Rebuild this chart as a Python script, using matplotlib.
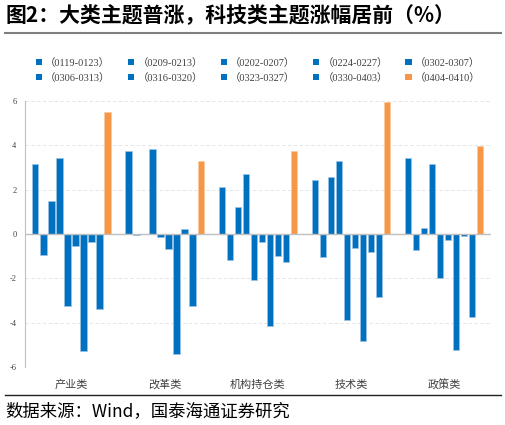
import numpy as np
import matplotlib
matplotlib.use("Agg")
import matplotlib.pyplot as plt
from matplotlib.lines import Line2D
from matplotlib.patches import Patch

plt.rcParams['font.family'] = ['Liberation Serif', 'Noto Sans CJK SC']

categories = ['产业类', '改革类', '机构持仓类', '技术类', '政策类']
periods = ['（0119-0123）', '（0209-0213）', '（0202-0207）', '（0224-0227）', '（0302-0307）',
           '（0306-0313）', '（0316-0320）', '（0323-0327）', '（0330-0403）', '（0404-0410）']

# rows = periods, columns = categories
values = [
    [3.14, 3.72, 2.12, 2.45, 3.42],
    [-0.93, -0.05, -1.16, -1.02, -0.74],
    [1.47, 0.02, 1.23, 2.55, 0.26],
    [3.41, 3.81, 2.69, 3.29, 3.17],
    [-3.26, -0.12, -2.06, -3.89, -1.97],
    [-0.54, -0.69, -0.36, -0.65, -0.29],
    [-5.27, -5.42, -4.16, -4.80, -5.23],
    [-0.36, 0.24, -0.99, -0.80, -0.08],
    [-3.36, -3.26, -1.28, -2.83, -3.74],
    [5.47, 3.30, 3.74, 5.93, 3.95],
]

blue = '#0070C0'
orange = '#F79646'
colors = [blue] * 9 + [orange]

fig = plt.figure(figsize=(5.06, 4.25), dpi=100)
ax = fig.add_axes([0.049, 0.136, 0.921, 0.627])

x = np.arange(len(categories))
pitch = 0.086
width = 0.068
for i, vals in enumerate(values):
    offs = (i - 4.5) * pitch
    ax.bar(x + offs, vals, width=width, color=colors[i],
           edgecolor='#9DC3E6' if i < 9 else '#FBC9A0', linewidth=0.5, zorder=3)

ax.set_xlim(-0.5, len(categories) - 0.5)
ax.set_ylim(-6, 6)
ax.set_yticks([-6, -4, -2, 0, 2, 4, 6])
ax.set_yticklabels(['-6', '-4', '-2', '0', '2', '4', '6'])
ax.tick_params(axis='y', labelsize=6, length=0, pad=6, colors='#404040')
ax.set_xticks(x)
ax.set_xticklabels(categories, fontsize=8, color='#404040')
ax.tick_params(axis='x', length=0, pad=9)
for t in ax.get_xticklabels():
    t.set_family(['Noto Sans CJK SC'])

ax.grid(axis='y', color='#E0E0E0', linestyle=(0, (4, 3)), linewidth=0.6, zorder=0)
ax.axhline(0, color='#BFBFBF', linewidth=1.0, zorder=4)
for s in ['top', 'right', 'bottom']:
    ax.spines[s].set_visible(False)
ax.spines['left'].set_color('#BFBFBF')
ax.spines['left'].set_linewidth(0.8)

# legend, filled row by row like the original
order = [0, 5, 1, 6, 2, 7, 3, 8, 4, 9]
handles = [Patch(facecolor=colors[i], edgecolor='none') for i in order]
labels = [periods[i] for i in order]
leg = fig.legend(handles, labels, ncol=5, loc='center', bbox_to_anchor=(0.51, 0.835),
                 frameon=False, fontsize=7.5, handlelength=0.6, handleheight=0.6,
                 columnspacing=1.7, handletextpad=0.3, labelspacing=0.5)
for t in leg.get_texts():
    t.set_color('#404040')

# title and rules
fig.text(0.01, 0.963, '图2：大类主题普涨，科技类主题涨幅居前（%）', fontsize=15,
         fontweight='bold', va='center', ha='left', family=['Noto Sans CJK SC'])
fig.add_artist(Line2D([0.01, 0.99], [0.922, 0.922], color='#7F7F7F', linewidth=1.5))
fig.add_artist(Line2D([0.01, 0.99], [0.07, 0.07], color='#202020', linewidth=1.0))
fig.text(0.01, 0.033, '数据来源：Wind，国泰海通证券研究', fontsize=12.5, va='center', ha='left',
         family=['Noto Sans CJK SC'])

fig.savefig('out.png', dpi=100)
